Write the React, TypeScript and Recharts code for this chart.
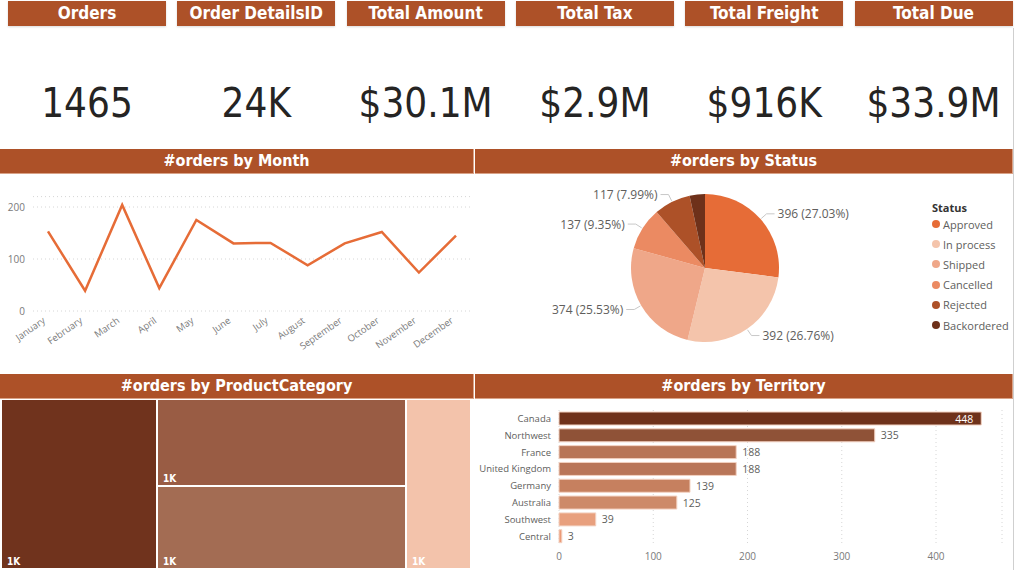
import {
  Bar,
  BarChart,
  CartesianGrid,
  Cell,
  LabelList,
  Legend,
  Line,
  LineChart,
  Pie,
  PieChart,
  Treemap,
  XAxis,
  YAxis,
} from "recharts";

// KPI cards
const kpiTitles = ["Orders", "Order DetailsID", "Total Amount", "Total Tax", "Total Freight", "Total Due"];
const kpiValues = ["1465", "24K", "$30.1M", "$2.9M", "$916K", "$33.9M"];

// #orders by Month
const months = [
  "January", "February", "March", "April", "May", "June",
  "July", "August", "September", "October", "November", "December",
];
const monthOrders = [153, 39, 204, 44, 175, 130, 131, 88, 130, 152, 74, 145];
const monthTicks = [0, 100, 200];

// #orders by Status
const statuses = ["Approved", "In process", "Shipped", "Cancelled", "Rejected", "Backordered"];
const statusOrders = [396, 392, 374, 137, 117, 49];

// #orders by ProductCategory
const categories = ["Bikes", "Components", "Clothing", "Accessories"];
const categoryOrders = [1420, 1160, 1105, 595];

// #orders by Territory
const territories = [
  "Canada", "Northwest", "France", "United Kingdom",
  "Germany", "Australia", "Southwest", "Central",
];
const territoryOrders = [448, 335, 188, 188, 139, 125, 39, 3];
const territoryTicks = [0, 100, 200, 300, 400];

const statusColors = ["#E66C37", "#F4C4AB", "#EFA789", "#EB8A62", "#AD5128", "#6E311A"];
const categoryColors = ["#70331D", "#995C44", "#A36C53", "#F3C3AB"];
const territoryColors = [
  "#6F321B", "#8F5237", "#B87556", "#B97659",
  "#C6805F", "#CD8A69", "#E8A07E", "#EC9A76",
];

const HEAD_BG = "#AD5128";
const headFont = "'DejaVu Sans Condensed', 'DejaVu Sans', sans-serif";
const uiFont = "'Open Sans', 'Noto Sans', sans-serif";
const RADIAN = Math.PI / 180;

const monthData = months.map((month, i) => ({ month, orders: monthOrders[i] }));
const statusData = statuses.map((status, i) => ({ status, orders: statusOrders[i] }));
const categoryData = categories.map((name, i) => ({ name, orders: categoryOrders[i] }));
const territoryData = territories.map((territory, i) => ({ territory, orders: territoryOrders[i] }));
const statusTotal = statusOrders.reduce((a, b) => a + b, 0);

// values shown in thousands, no decimals
const fmtK = (v: number) => `${Math.round(v / 1000)}K`;

function SectionHeader({ title, left, top, width }: { title: string; left: number; top: number; width: number }) {
  return (
    <div
      style={{
        position: "absolute",
        left,
        top,
        width,
        height: 25,
        boxSizing: "border-box",
        background: HEAD_BG,
        borderBottom: "1px solid #D9A287",
        borderRight: "1px solid #D9A287",
        color: "#fff",
        fontFamily: headFont,
        fontStretch: "condensed",
        fontWeight: 700,
        fontSize: 16,
        lineHeight: "24px",
        textAlign: "center",
      }}
    >
      {title}
    </div>
  );
}

function MonthTick({ x, y, payload }: any) {
  const ax = x - 2;
  const ay = y + 3;
  return (
    <text
      x={ax}
      y={ay}
      textAnchor="end"
      transform={`rotate(-35 ${ax} ${ay})`}
      fontSize={9.5}
      fontFamily={uiFont}
      fill="#7a7a7a"
    >
      {payload.value}
    </text>
  );
}

function TerritoryTick({ x, y, payload }: any) {
  return (
    <text
      x={x}
      y={y}
      dominantBaseline="central"
      textAnchor="end"
      fontSize={9.5}
      fontFamily={uiFont}
      fill="#605E5C"
    >
      {payload.value}
    </text>
  );
}

function renderStatusLabel(props: any) {
  const { cx, cy, midAngle, outerRadius, value, index } = props;
  const pct = value / statusTotal;
  if (pct < 0.05) return null;
  const cos = Math.cos(-midAngle * RADIAN);
  const sin = Math.sin(-midAngle * RADIAN);
  const sx = cx + (outerRadius + 1) * cos;
  const sy = cy + (outerRadius + 1) * sin;
  const mx = cx + (outerRadius + 8) * cos;
  const my = cy + (outerRadius + 8) * sin;
  const right = cos >= 0;
  const ex = mx + (right ? 8 : -8);
  return (
    <g key={`lbl-${index}`}>
      <path d={`M${sx},${sy}L${mx},${my}L${ex},${my}`} stroke="#c8c8c8" fill="none" />
      <text
        x={ex + (right ? 3 : -3)}
        y={my}
        dominantBaseline="central"
        textAnchor={right ? "start" : "end"}
        fontSize={12}
        fontFamily={uiFont}
        fill="#605E5C"
      >
        {`${value} (${(pct * 100).toFixed(2)}%)`}
      </text>
    </g>
  );
}

function StatusLegend() {
  return (
    <div style={{ fontFamily: uiFont, fontSize: 11, color: "#605E5C" }}>
      <div style={{ fontWeight: 700, color: "#333", lineHeight: "14px" }}>Status</div>
      <div style={{ marginTop: -1 }}>
        {statuses.map((s, i) => (
          <div key={s} style={{ display: "flex", alignItems: "center", height: 20.2 }}>
            <span
              style={{
                width: 8,
                height: 8,
                borderRadius: 4,
                background: statusColors[i],
                marginRight: 3,
                flex: "none",
              }}
            />
            {s}
          </div>
        ))}
      </div>
    </div>
  );
}

function CategoryCell(props: any) {
  const { x, y, width, height, depth, name, value } = props;
  if (depth !== 1) return null;
  const fill = categoryColors[categories.indexOf(name)];
  return (
    <g>
      <rect x={x} y={y} width={width} height={height} fill={fill} stroke="#fff" strokeWidth={2} />
      <text
        x={x + 6}
        y={y + height - 4}
        fill="#fff"
        fontSize={10}
        fontWeight={700}
        fontFamily={headFont}
      >
        {fmtK(value)}
      </text>
    </g>
  );
}

const BAR_W = 538;
const BAR_MARGIN_R = 11;

function TerritoryLabel(props: any) {
  const { x, y, width, height, value } = props;
  const end = x + width;
  const inside = end + 28 > BAR_W - BAR_MARGIN_R;
  return (
    <text
      x={inside ? end - 8 : end + 6}
      y={y + height / 2}
      dominantBaseline="central"
      textAnchor={inside ? "end" : "start"}
      fontSize={10.5}
      fontFamily={uiFont}
      fill={inside ? "#fff" : "#605E5C"}
    >
      {value}
    </text>
  );
}

export default function App() {
  return (
    <div
      style={{
        position: "absolute",
        left: 0,
        top: 0,
        width: 1015,
        height: 570,
        background: "#fff",
        overflow: "hidden",
      }}
    >
      {kpiTitles.map((t, i) => (
        <div key={t}>
          <div
            style={{
              position: "absolute",
              left: 8 + i * 169.3,
              top: 1,
              width: 158,
              height: 25,
              background: HEAD_BG,
              boxShadow: "0 1px 2px rgba(0,0,0,0.15)",
              color: "#fff",
              fontFamily: headFont,
              fontStretch: "condensed",
              fontWeight: 700,
              fontSize: 17,
              lineHeight: "24px",
              textAlign: "center",
            }}
          >
            {t}
          </div>
          <div
            style={{
              position: "absolute",
              left: 8 + i * 169.3,
              top: 80,
              width: 158,
              height: 46,
              color: "#252423",
              fontFamily: headFont,
              fontStretch: "condensed",
              fontSize: 40,
              lineHeight: "46px",
              textAlign: "center",
            }}
          >
            {kpiValues[i]}
          </div>
        </div>
      ))}

      <div style={{ position: "absolute", left: 1013, top: 28, width: 1, height: 542, background: "#cfcfcf" }} />

      <SectionHeader title="#orders by Month" left={0} top={149} width={474} />
      <SectionHeader title="#orders by Status" left={475} top={149} width={538} />
      <SectionHeader title="#orders by ProductCategory" left={0} top={374} width={474} />
      <SectionHeader title="#orders by Territory" left={475} top={374} width={538} />

      <div style={{ position: "absolute", left: 0, top: 175 }}>
        <LineChart width={473} height={195} data={monthData} margin={{ top: 21.6, right: 3, left: 0, bottom: 0 }}>
          <CartesianGrid vertical={false} stroke="#d6d6d6" strokeDasharray="1 3" />
          <XAxis
            dataKey="month"
            scale="point"
            padding={{ left: 15, right: 14 }}
            axisLine={false}
            tickLine={false}
            interval={0}
            height={59}
            tick={<MonthTick />}
          />
          <YAxis
            domain={[0, 220]}
            ticks={monthTicks}
            width={33}
            axisLine={false}
            tickLine={false}
            tick={{ fontSize: 10, fill: "#7a7a7a", fontFamily: uiFont }}
          />
          <Line
            type="linear"
            dataKey="orders"
            stroke="#E66C37"
            strokeWidth={2.5}
            dot={false}
            isAnimationActive={false}
          />
        </LineChart>
      </div>

      <div style={{ position: "absolute", left: 475, top: 175 }}>
        <PieChart width={538} height={195} margin={{ top: 0, right: 0, bottom: 0, left: 0 }}>
          <Pie
            data={statusData}
            dataKey="orders"
            nameKey="status"
            cx={230}
            cy={93}
            outerRadius={74}
            startAngle={90}
            endAngle={-270}
            stroke="none"
            label={renderStatusLabel}
            labelLine={false}
            isAnimationActive={false}
          >
            {statusData.map((d, i) => (
              <Cell key={d.status} fill={statusColors[i]} />
            ))}
          </Pie>
          <Legend
            layout="vertical"
            verticalAlign="top"
            align="right"
            content={<StatusLegend />}
            wrapperStyle={{ left: 457, top: 26, width: 80 }}
          />
        </PieChart>
      </div>

      <div style={{ position: "absolute", left: 1, top: 399 }}>
        <Treemap
          width={470}
          height={170}
          data={categoryData}
          dataKey="orders"
          nameKey="name"
          isAnimationActive={false}
          content={<CategoryCell />}
        />
      </div>

      <div style={{ position: "absolute", left: 475, top: 399 }}>
        <BarChart
          layout="vertical"
          width={BAR_W}
          height={171}
          data={territoryData}
          margin={{ top: 11, right: BAR_MARGIN_R, left: 0, bottom: 0 }}
          barSize={13}
        >
          <CartesianGrid horizontal={false} stroke="#d6d6d6" strokeDasharray="1 3" />
          <XAxis
            type="number"
            domain={[0, 470]}
            ticks={territoryTicks}
            axisLine={false}
            tickLine={false}
            height={25.5}
            tick={{ fontSize: 10, fill: "#7a7a7a", fontFamily: uiFont }}
          />
          <YAxis
            type="category"
            dataKey="territory"
            width={84}
            axisLine={false}
            tickLine={false}
            interval={0}
            tick={<TerritoryTick />}
          />
          <Bar dataKey="orders" stroke="#F3D2C2" strokeWidth={1} isAnimationActive={false}>
            {territoryData.map((d, i) => (
              <Cell key={d.territory} fill={territoryColors[i]} />
            ))}
            <LabelList dataKey="orders" content={<TerritoryLabel />} />
          </Bar>
        </BarChart>
      </div>
    </div>
  );
}
